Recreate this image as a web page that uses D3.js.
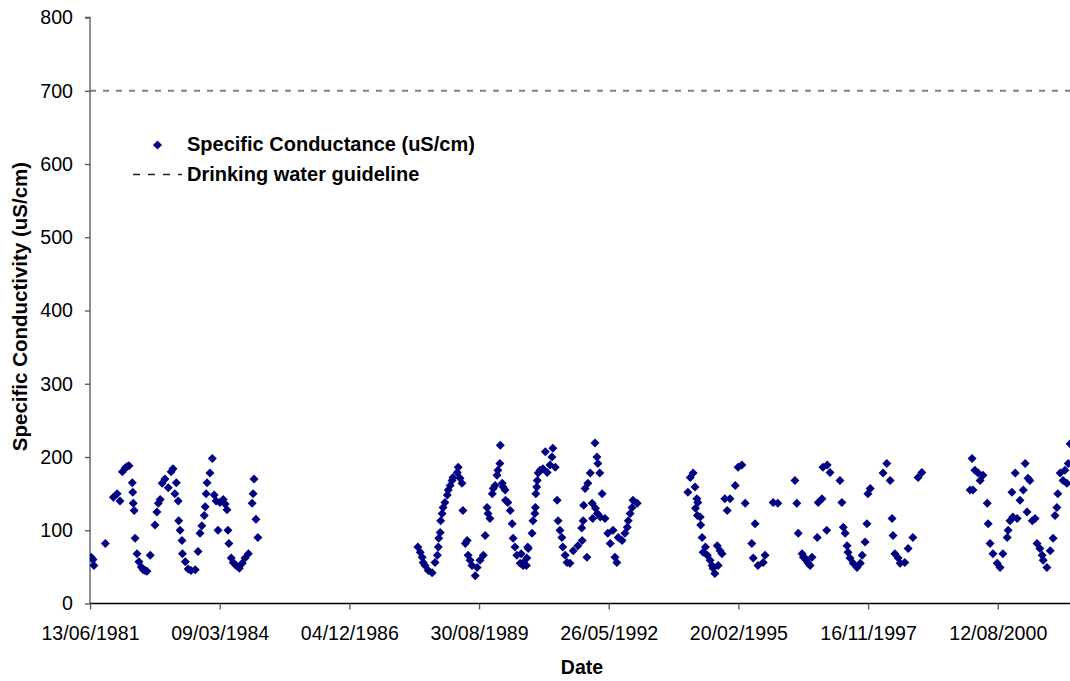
<!DOCTYPE html>
<html><head><meta charset="utf-8">
<script src="https://cdn.jsdelivr.net/npm/d3@7"></script>
<style>
body{margin:0;background:#fff;}
svg text{font-family:Arial,"Liberation Sans",sans-serif;}
</style></head>
<body>
<svg id="c" width="1070" height="681"></svg>
<script>
// Sample dates as decimal years
const sampleYears = [
 1981.47,1981.51,1981.53,1981.77,1981.94,1982.02,1982.08,1982.13,1982.19,1982.23,1982.27,1982.34,1982.35,1982.36,1982.38,1982.40,1982.44,1982.48,1982.53,1982.57,1982.61,1982.65,1982.72,1982.82,1982.86,1982.89,1982.93,1982.97,1983.03,1983.10,1983.16,1983.20,1983.24,1983.27,1983.31,1983.32,1983.35,1983.39,1983.40,1983.46,1983.52,1983.58,1983.67,1983.73,1983.77,1983.81,1983.86,1983.88,1983.90,1983.92,1983.98,1984.03,1984.07,1984.11,1984.15,1984.19,1984.26,1984.30,1984.34,1984.36,1984.38,1984.43,1984.47,1984.53,1984.60,1984.66,1984.72,1984.79,1984.87,1984.89,1984.91,1984.95,1984.99,
 1988.37,1988.42,1988.46,1988.48,1988.52,1988.59,1988.67,1988.73,1988.78,1988.80,1988.81,1988.84,1988.85,1988.88,1988.90,1988.94,1988.99,1989.01,1989.05,1989.09,1989.11,1989.20,1989.22,1989.26,1989.30,1989.32,1989.37,1989.41,1989.43,1989.47,1989.51,1989.58,1989.62,1989.68,1989.75,1989.79,1989.83,1989.85,1989.89,1989.94,1989.96,1990.00,1990.04,1990.06,1990.10,1990.11,1990.15,1990.17,1990.21,1990.22,1990.27,1990.32,1990.36,1990.38,1990.42,1990.46,1990.53,1990.59,1990.67,1990.70,
 1990.55,1990.60,1990.66,1990.69,1990.78,1990.80,1990.84,1990.85,1990.86,1990.88,1990.89,1990.91,1990.95,1991.01,1991.06,1991.10,1991.16,1991.20,1991.22,1991.27,1991.31,1991.33,1991.37,1991.41,1991.43,1991.48,1991.52,1991.58,1991.65,1991.75,1991.84,1991.83,1991.86,1991.87,1991.90,1991.94,1991.96,1992.01,1992.05,1992.06,1992.11,1992.12,1992.15,1992.16,1992.17,1992.21,1992.22,1992.26,1992.32,1992.38,1992.43,1992.49,1992.53,1992.57,1992.60,1992.68,1992.74,1992.79,1992.81,1992.85,1992.89,1992.91,1993.00,
 1994.07,1994.12,1994.18,1994.22,1994.23,1994.26,1994.27,1994.28,1994.33,1994.34,1994.37,1994.39,1994.44,1994.48,1994.54,1994.58,1994.60,1994.64,1994.69,1994.71,1994.75,1994.79,1994.85,1994.90,1994.96,1995.07,1995.13,1995.21,1995.28,1995.42,1995.45,1995.49,1995.55,1995.66,1995.70,1995.87,1995.97,1996.33,1996.37,1996.40,
 1996.48,1996.51,1996.54,1996.57,1996.61,1996.65,1996.69,1996.80,1996.82,1996.90,1996.92,1997.00,1997.01,1997.07,1997.28,1997.32,1997.35,1997.39,1997.43,1997.45,1997.49,1997.56,1997.64,1997.71,1997.75,1997.81,1997.85,1997.87,1997.92,1998.19,1998.27,1998.34,1998.38,1998.40,1998.44,1998.51,1998.55,1998.65,1998.72,1998.82,1998.93,1999.01,
 2000.03,2000.07,2000.09,2000.13,2000.20,2000.24,2000.30,2000.39,2000.41,2000.45,2000.51,2000.60,2000.66,2000.72,2000.81,2000.83,2000.87,2000.91,2000.93,2000.98,2001.02,2001.08,2001.15,2001.19,2001.23,2001.25,2001.29,2001.34,2001.40,2001.44,2001.50,2001.55,2001.57,2001.65,2001.72,2001.78,2001.82,2001.86,2001.88,2001.93,2001.99,2002.03,2002.07,2002.10,2002.14
];
const conductance = [
 63,60,52,82,145,150,140,180,185,187,188,165,152,137,127,89,68,57,50,46,45,44,66,107,125,137,142,164,170,158,180,184,150,165,140,113,100,86,68,57,47,45,46,71,96,106,120,132,150,165,178,198,148,140,100,138,142,136,128,100,82,62,56,52,48,55,62,68,137,150,170,115,90,
 77,70,63,56,52,45,42,56,66,77,89,97,113,123,131,138,148,155,161,168,172,179,186,171,164,127,82,86,66,59,52,38,49,59,66,93,131,123,116,150,157,161,175,182,191,216,164,159,155,141,138,127,109,89,77,66,55,52,62,75,
 68,56,52,77,96,113,123,131,150,159,168,178,182,184,207,179,189,200,212,186,141,113,100,90,77,66,56,55,72,79,86,103,113,134,157,63,164,178,137,116,219,130,200,123,191,178,118,150,116,96,82,100,63,56,90,86,96,104,113,123,131,141,137,
 152,172,178,159,130,143,120,138,118,107,90,70,77,66,59,52,48,41,79,52,72,68,143,127,143,161,186,189,137,82,62,109,52,56,66,138,137,168,137,96,
 68,63,62,59,55,52,63,90,138,143,186,100,189,179,168,138,104,96,79,70,62,55,49,55,66,84,109,150,157,178,191,168,116,93,68,62,55,56,75,90,172,179,
 155,198,155,182,178,168,175,137,109,82,68,55,49,68,90,100,113,152,118,178,116,141,155,191,125,171,168,113,116,82,75,66,59,49,72,89,120,131,150,178,168,182,164,191,218
];
const yTicks = [0,100,200,300,400,500,600,700,800];
const xTickLabels = ["13/06/1981","09/03/1984","04/12/1986","30/08/1989","26/05/1992","20/02/1995","16/11/1997","12/08/2000"];
const xDomainLabels = ["13/06/1981","20/02/2002"];
const guideline = 700;
const seriesName = "Specific Conductance (uS/cm)";
const guidelineName = "Drinking water guideline";
const xTitle = "Date";
const yTitle = "Specific Conductivity (uS/cm)";

const parse = d3.timeParse("%d/%m/%Y");
function fromDecimalYear(y){
  const yr = Math.floor(y);
  const s = new Date(yr,0,1), e = new Date(yr+1,0,1);
  return new Date(s.getTime() + (y-yr)*(e-s));
}
const data = sampleYears.map((y,i)=>({date:fromDecimalYear(y), v:conductance[i]}));

const svg = d3.select("#c");
const L=90, R=1070, T=17.5, B=603.5;
const x = d3.scaleTime().domain(xDomainLabels.map(parse)).range([L,R]);
const y = d3.scaleLinear().domain([0,800]).range([B,T]);
const fs = 19.6;

// guideline
svg.append("line").attr("x1",L).attr("x2",R).attr("y1",y(guideline)).attr("y2",y(guideline))
  .attr("stroke","#808080").attr("stroke-width",1.8).attr("stroke-dasharray","6,7");

// y axis
const ya = svg.append("g").attr("transform",`translate(${L},0)`)
  .call(d3.axisLeft(y).tickValues(yTicks).tickSize(5).tickPadding(12).tickFormat(d3.format("d")));
ya.select(".domain").attr("stroke","#555").attr("stroke-width",1.3).attr("d",`M-5,${T}H0V${B}`);
ya.selectAll(".tick line").attr("stroke","#555").attr("stroke-width",1.3);
ya.selectAll("text").attr("font-size",fs).attr("fill","#000").style("font-family","Arial, 'Liberation Sans', sans-serif");

// x axis
const xa = svg.append("g").attr("transform",`translate(0,${B})`)
  .call(d3.axisBottom(x).tickValues(xTickLabels.map(parse)).tickSize(6).tickPadding(17).tickFormat(d3.timeFormat("%d/%m/%Y")));
xa.select(".domain").attr("stroke","#000").attr("stroke-width",1.3).attr("d",`M${L},0H${R}`);
xa.selectAll(".tick line").attr("stroke","#555").attr("stroke-width",1.3);
xa.selectAll("text").attr("font-size",fs).attr("fill","#000").style("font-family","Arial, 'Liberation Sans', sans-serif");

// points
const diamond = r => `M0,${-r}L${r},0L0,${r}L${-r},0Z`;
svg.append("defs").append("clipPath").attr("id","clip").append("rect")
  .attr("x",L).attr("y",0).attr("width",R-L+10).attr("height",B);
svg.append("g").attr("clip-path","url(#clip)").selectAll("path").data(data).join("path")
  .attr("d",diamond(4.5)).attr("fill","#000080")
  .attr("transform",d=>`translate(${x(d.date)},${y(d.v)})`);

// titles
svg.append("text").attr("x",582).attr("y",674).attr("text-anchor","middle")
  .attr("font-size",19.5).attr("font-weight","bold").text(xTitle);
svg.append("text").attr("transform",`translate(27,${(T+B)/2 - 4}) rotate(-90)`).attr("text-anchor","middle")
  .attr("font-size",20.5).attr("font-weight","bold").text(yTitle);

// legend
const lg = svg.append("g");
lg.append("path").attr("d",diamond(4.5)).attr("fill","#000080").attr("transform","translate(157.5,145)");
lg.append("text").attr("x",187).attr("y",151).attr("font-size",20).attr("font-weight","bold").text(seriesName);
lg.append("line").attr("x1",133).attr("x2",182).attr("y1",174.5).attr("y2",174.5)
  .attr("stroke","#222").attr("stroke-width",1.3).attr("stroke-dasharray","7,8");
lg.append("text").attr("x",187).attr("y",181).attr("font-size",20).attr("font-weight","bold").text(guidelineName);
</script>
</body></html>
